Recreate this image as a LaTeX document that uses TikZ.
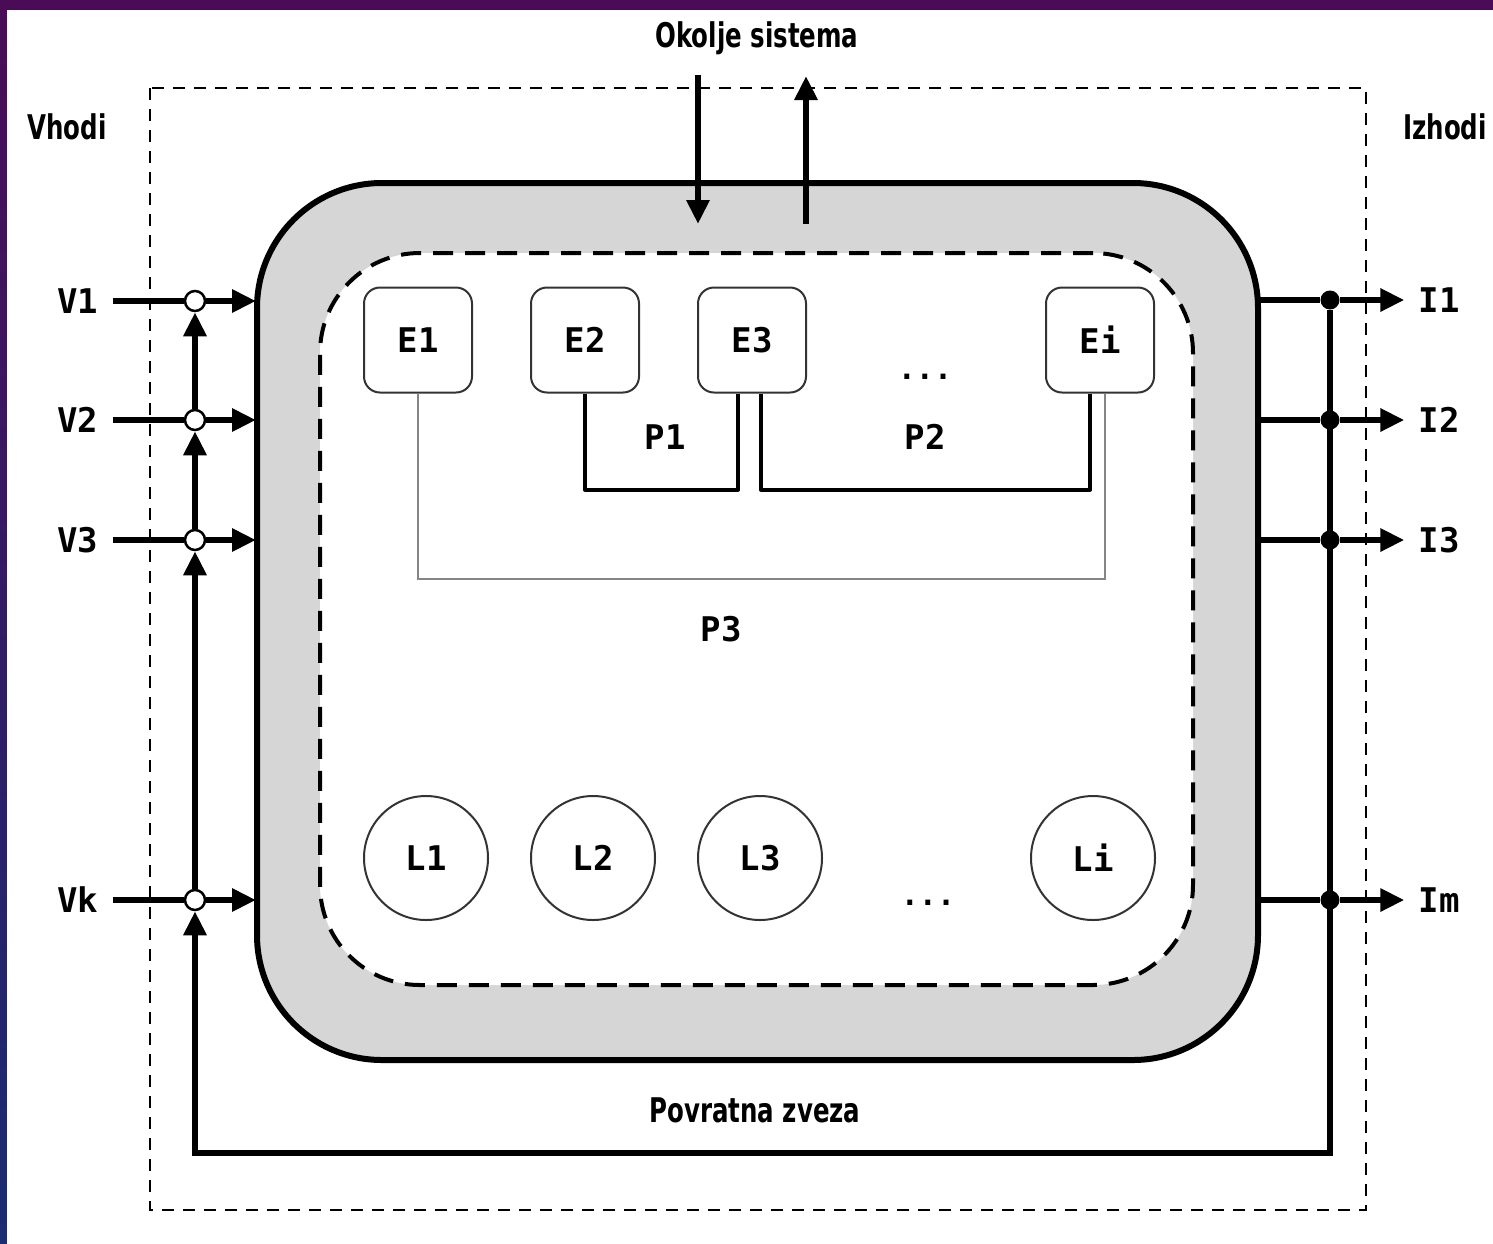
\documentclass[tikz,border=0pt]{standalone}
\usepackage{fontspec}
\usetikzlibrary{arrows.meta}
\newfontfamily\labfont{DejaVu Sans Mono}
\newfontfamily\capfont[FakeStretch=0.8]{DejaVu Sans Condensed}
\definecolor{ringgray}{HTML}{D6D6D6}
\definecolor{slidetop}{HTML}{4A0C56}
\definecolor{slidebot}{HTML}{1A2C72}
\tikzset{
  wire/.style={line width=6pt},
  tip/.style={-{Triangle[length=24pt,width=22pt]}},
  pw/.style={line width=4pt, line join=round},
  pthin/.style={line width=2pt, black!48},
  lab/.style={font=\labfont\bfseries\fontsize{34}{36}\selectfont, inner xsep=14pt, inner ysep=2pt},
  captxt/.style={font=\capfont\bfseries\fontsize{34}{36}\selectfont, inner sep=2pt},
  elem/.style={draw=black!80, line width=2pt, rounded corners=16pt, fill=white,
    minimum width=108pt, minimum height=105pt, lab, inner xsep=2pt},
  link/.style={draw=black!80, line width=2pt, circle, minimum size=124pt, lab, inner xsep=2pt},
  jin/.style={circle, draw, line width=2.5pt, fill=white, minimum size=20pt, inner sep=0pt},
  jout/.style={circle, fill, minimum size=19pt, inner sep=0pt},
  dots/.style={font=\labfont\bfseries\fontsize{30}{32}\selectfont},
}

\begin{document}
\begin{tikzpicture}[x=1pt,y=-1pt]
  \useasboundingbox (0,0) rectangle (1493,1243);
  % slide background
  \shade[top color=slidetop, bottom color=slidebot] (0,0) rectangle (1493,1243);
  \fill[white] (7,10) rectangle (1500,1250);

  % environment box
  \draw[line width=2pt, dash pattern=on 12pt off 9pt] (150,88) rectangle (1366,1210);
  \node[captxt] (vhodi) at (67,127) {Vhodi};
  \node[captxt] (izhodi) at (1445,127) {Izhodi};
  \node[captxt] (okolje) at (757,38) {Okolje sistema};
  \node[captxt] (povr) at (755,1110) {Povratna zveza};

  % system ring and core
  \node[draw, line width=6pt, fill=ringgray, rounded corners=125pt,
    minimum width=1001pt, minimum height=877pt] (sys) at (757.5,621.5) {};
  \node[draw, line width=4pt, dash pattern=on 20pt off 12pt, fill=white, rounded corners=100pt,
    minimum width=873pt, minimum height=732pt] (core) at (756.5,619) {};

  % elements
  \node[elem] (e1) at (418,340) {E1};
  \node[elem] (e2) at (585,340) {E2};
  \node[elem] (e3) at (752,340) {E3};
  \node[elem] (ei) at (1100,340) {Ei};
  \node[dots] (edots) at (925,377) {...};

  % relations
  \draw[pw] (e2.south) -- ++(0,96) -| ([xshift=-14pt]e3.south);
  \draw[pw] ([xshift=9pt]e3.south) -- ++(0,96) -| ([xshift=-10pt]ei.south);
  \draw[pthin] (e1.south) -- ++(0,185) -| ([xshift=5pt]ei.south);
  \node[lab] (p1) at (665,437) {P1};
  \node[lab] (p2) at (925,437) {P2};
  \node[lab] (p3) at (721,629) {P3};

  % links
  \node[link] (l1) at (426,858) {L1};
  \node[link] (l2) at (593,858) {L2};
  \node[link] (l3) at (760,858) {L3};
  \node[link] (li) at (1093,858) {Li};
  \node[dots] (ldots) at (928,903) {...};

  % inputs
  \foreach \n/\t/\y in {1/1/301, 2/2/420, 3/3/540, k/k/900} {
    \node[lab] (v\n) at (78,\y) {V\t};
    \node[jin] (j\n) at (195,\y) {};
    \coordinate (s\n) at (256,\y);
    \draw[wire] (v\n) -- (j\n);
    \draw[wire,tip] (j\n) -- (s\n);
  }
  \draw[wire,tip] (j3) -- (j2);
  \draw[wire,tip] (j2) -- (j1);
  \draw[wire,tip] (jk) -- (j3);

  % outputs
  \foreach \n/\t/\y in {1/1/300, 2/2/420, 3/3/540, 4/m/900} {
    \coordinate (r\n) at (1256,\y);
    \node[jout] (o\n) at (1330,\y) {};
    \node[lab] (i\n) at (1439,\y) {I\t};
    \draw[wire] (r\n) -- (o\n);
    \draw[wire,tip] (o\n) -- (i\n);
  }

  % feedback
  \coordinate (fbr) at (1330,1153);
  \coordinate (fbl) at (195,1153);
  \draw[wire,tip] (o1) -- (fbr) -- (fbl) -- (jk);

  % exchange with environment
  \coordinate (ena) at (698,75);
  \coordinate (enb) at (698,224);
  \coordinate (exa) at (806,224);
  \coordinate (exb) at (806,76);
  \draw[wire,tip] (ena) -- (enb);
  \draw[wire,tip] (exa) -- (exb);
\end{tikzpicture}
\end{document}
